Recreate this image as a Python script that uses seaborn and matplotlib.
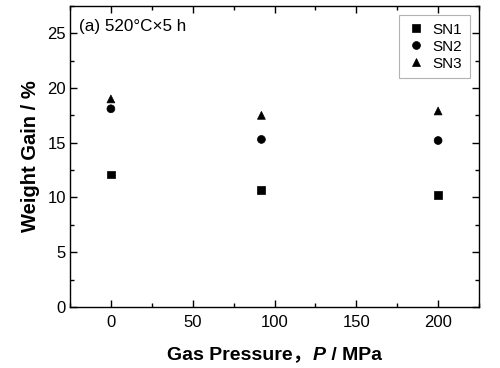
import seaborn as sns
import pandas as pd
import numpy as np
import matplotlib.pyplot as plt
from matplotlib.ticker import MultipleLocator
from matplotlib.offsetbox import TextArea, HPacker, AnchoredOffsetbox

# data
pressure = [0, 92, 200]
sn1 = [12.1, 10.7, 10.2]
sn2 = [18.1, 15.3, 15.2]
sn3 = [19.0, 17.5, 17.9]
samples = ['SN1', 'SN2', 'SN3']

rows = []
for name, vals in zip(samples, [sn1, sn2, sn3]):
    for p, v in zip(pressure, vals):
        rows.append({'P': p, 'gain': v, 'sample': name})
df = pd.DataFrame(rows)

sns.set_style('ticks')
plt.rcParams['font.family'] = ['Liberation Sans', 'Noto Sans CJK SC', 'DejaVu Sans']
plt.rcParams['xtick.direction'] = 'in'
plt.rcParams['ytick.direction'] = 'in'
plt.rcParams['text.color'] = 'black'
plt.rcParams['axes.labelcolor'] = 'black'
plt.rcParams['xtick.color'] = 'black'
plt.rcParams['ytick.color'] = 'black'

f, ax = plt.subplots(figsize=(5, 3.68), dpi=100)
f.subplots_adjust(left=0.14, right=0.958, top=0.984, bottom=0.166)

sns.scatterplot(data=df, x='P', y='gain', style='sample', hue='sample',
                markers={'SN1': 's', 'SN2': 'o', 'SN3': '^'},
                palette={'SN1': 'black', 'SN2': 'black', 'SN3': 'black'},
                s=32, edgecolor='black', linewidth=0.5, ax=ax)

ax.set_xlim(-25, 225)
ax.set_ylim(0, 27.5)
ax.xaxis.set_major_locator(MultipleLocator(50))
ax.xaxis.set_minor_locator(MultipleLocator(25))
ax.yaxis.set_major_locator(MultipleLocator(5))
ax.yaxis.set_minor_locator(MultipleLocator(2.5))
ax.tick_params(which='both', top=True, right=True, labeltop=False, labelright=False,
               color='black', labelcolor='black', labelsize=12, width=1)
ax.tick_params(which='major', length=5)
ax.tick_params(axis='x', which='major', pad=6)
ax.tick_params(axis='y', which='major', pad=3)
ax.tick_params(which='minor', length=3)
for sp in ax.spines.values():
    sp.set_visible(True)
    sp.set_color('black')
    sp.set_linewidth(1)

ax.set_ylabel('Weight Gain / %', fontsize=14.5, fontweight='bold', labelpad=5)
ax.set_xlabel('')

# x label with italic P
parts = [TextArea('Gas Pressure，', textprops=dict(fontsize=14, fontweight='bold',
                                                  family=['Liberation Sans', 'Noto Sans CJK SC'])),
         TextArea('P', textprops=dict(fontsize=14, fontweight='bold', style='italic',
                                      family='Liberation Sans')),
         TextArea(' / MPa', textprops=dict(fontsize=14, fontweight='bold',
                                           family='Liberation Sans'))]
box = HPacker(children=parts, align='baseline', pad=0, sep=0)
anch = AnchoredOffsetbox(loc='center', child=box, pad=0, frameon=False,
                         bbox_to_anchor=(0.5, -0.16), bbox_transform=ax.transAxes,
                         borderpad=0)
ax.add_artist(anch)

ax.text(0.022, 0.958, '(a) 520°C×5 h', transform=ax.transAxes, fontsize=12.3,
        ha='left', va='top')

leg = ax.legend(loc='upper right', fontsize=11, frameon=True, fancybox=False,
                edgecolor='0.7', framealpha=1, borderaxespad=0.6, borderpad=0.5,
                handlelength=1.2, handletextpad=0.5, labelspacing=0.2,
                markerscale=1.0)
leg.get_frame().set_linewidth(0.8)

f.savefig('out.png', dpi=100)
